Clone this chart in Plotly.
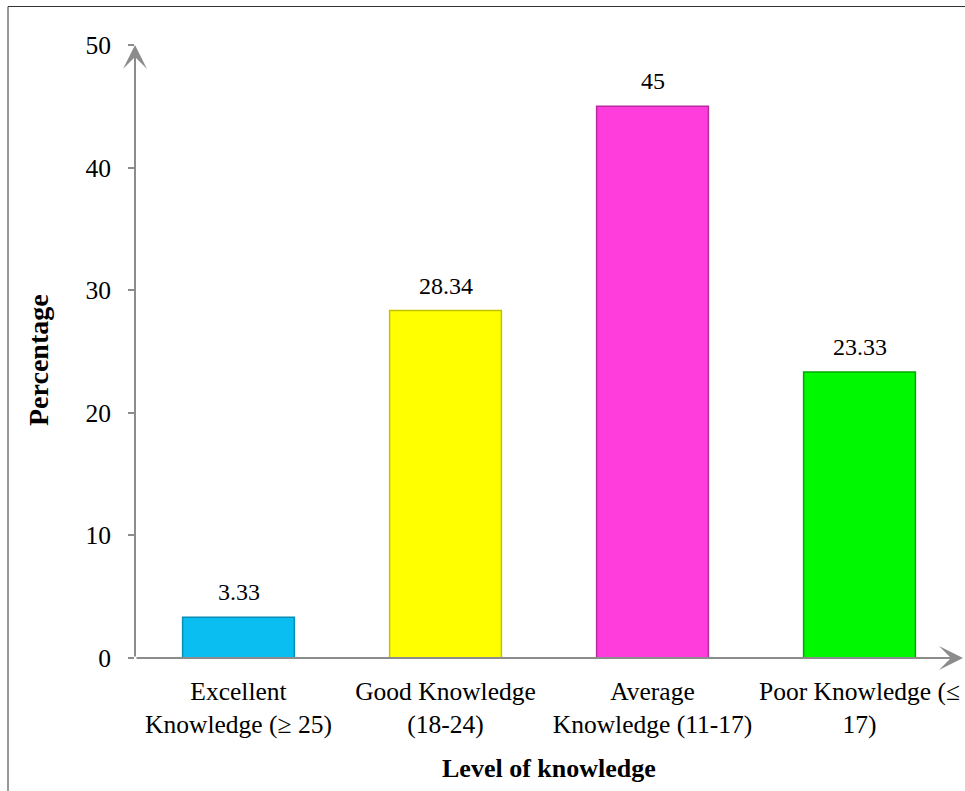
import plotly.graph_objects as go

# ---- data ----
categories = ["Excellent<br>Knowledge (≥ 25)", "Good Knowledge<br>(18-24)",
              "Average<br>Knowledge (11-17)", "Poor Knowledge (≤<br>17)"]
values = [3.33, 28.34, 45, 23.33]
value_labels = ["3.33", "28.34", "45", "23.33"]
bar_colors = ["#0BBEF2", "#FFFF00", "#FF3CDC", "#00F800"]
edge_colors = ["#0A8DB5", "#C2C200", "#B82AA0", "#00A800"]
y_ticks = [0, 10, 20, 30, 40, 50]
x_title = "Level of knowledge"
y_title = "Percentage"

W, H = 965, 791
FONT = "Liberation Serif"
AXIS_GRAY = "#8C8C8C"

xpos = list(range(len(categories)))

fig = go.Figure(
    go.Bar(
        x=xpos,
        y=values,
        width=0.54,
        marker=dict(color=bar_colors, line=dict(color=edge_colors, width=1.5)),
        hoverinfo="skip",
    )
)

annotations = []
# value labels above bars
for xi, v, lab in zip(xpos, values, value_labels):
    annotations.append(dict(x=xi, y=v, xref="x", yref="y", text=lab, showarrow=False,
                            yanchor="bottom", yshift=10,
                            font=dict(family=FONT, size=24, color="black")))
# axis arrows
annotations.append(dict(x=-0.5, y=50, ax=-0.5, ay=0, xref="x", yref="y", axref="x", ayref="y",
                        text="", showarrow=True, arrowhead=3, arrowsize=2, arrowwidth=2,
                        arrowcolor=AXIS_GRAY))
annotations.append(dict(x=3.5, y=0, ax=-0.5, ay=0, xref="x", yref="y", axref="x", ayref="y",
                        text="", showarrow=True, arrowhead=3, arrowsize=2, arrowwidth=2,
                        arrowcolor=AXIS_GRAY))
# axis titles
annotations.append(dict(x=38 / W, y=1 - 360 / H, xref="paper", yref="paper", text=f"<b>{y_title}</b>",
                        textangle=-90, showarrow=False, xanchor="center", yanchor="middle",
                        font=dict(family=FONT, size=28, color="black")))
annotations.append(dict(x=549 / W, y=1 - 768 / H, xref="paper", yref="paper", text=f"<b>{x_title}</b>",
                        showarrow=False, xanchor="center", yanchor="middle",
                        font=dict(family=FONT, size=26, color="black")))

shapes = [
    dict(type="line", xref="paper", yref="paper", x0=8 / W, x1=1, y0=1 - 6.5 / H, y1=1 - 6.5 / H,
         line=dict(color="#333333", width=1)),
    dict(type="line", xref="paper", yref="paper", x0=8 / W, x1=8 / W, y0=0, y1=1 - 6.5 / H,
         line=dict(color="#333333", width=1)),
]

fig.update_layout(
    width=W, height=H,
    margin=dict(l=0, r=0, t=0, b=0),
    paper_bgcolor="white", plot_bgcolor="white",
    showlegend=False,
    font=dict(family=FONT, size=24, color="black"),
    xaxis=dict(domain=[135 / W, 963 / W], range=[-0.5, 3.5], tickvals=xpos, ticktext=categories,
               showline=False, showgrid=False, zeroline=False, ticks="", automargin=False,
               tickfont=dict(family=FONT, size=25.5, color="black"), ticklabelstandoff=15),
    yaxis=dict(domain=[1 - 658 / H, 1 - 45 / H], range=[0, 50], tickvals=y_ticks,
               showline=False, showgrid=False, zeroline=False, ticks="outside", ticklen=6,
               tickwidth=1.5, tickcolor=AXIS_GRAY, automargin=False,
               tickfont=dict(family=FONT, size=25.5, color="black"), ticklabelstandoff=12),
    annotations=annotations,
    shapes=shapes,
)

fig.write_html("out.html")
